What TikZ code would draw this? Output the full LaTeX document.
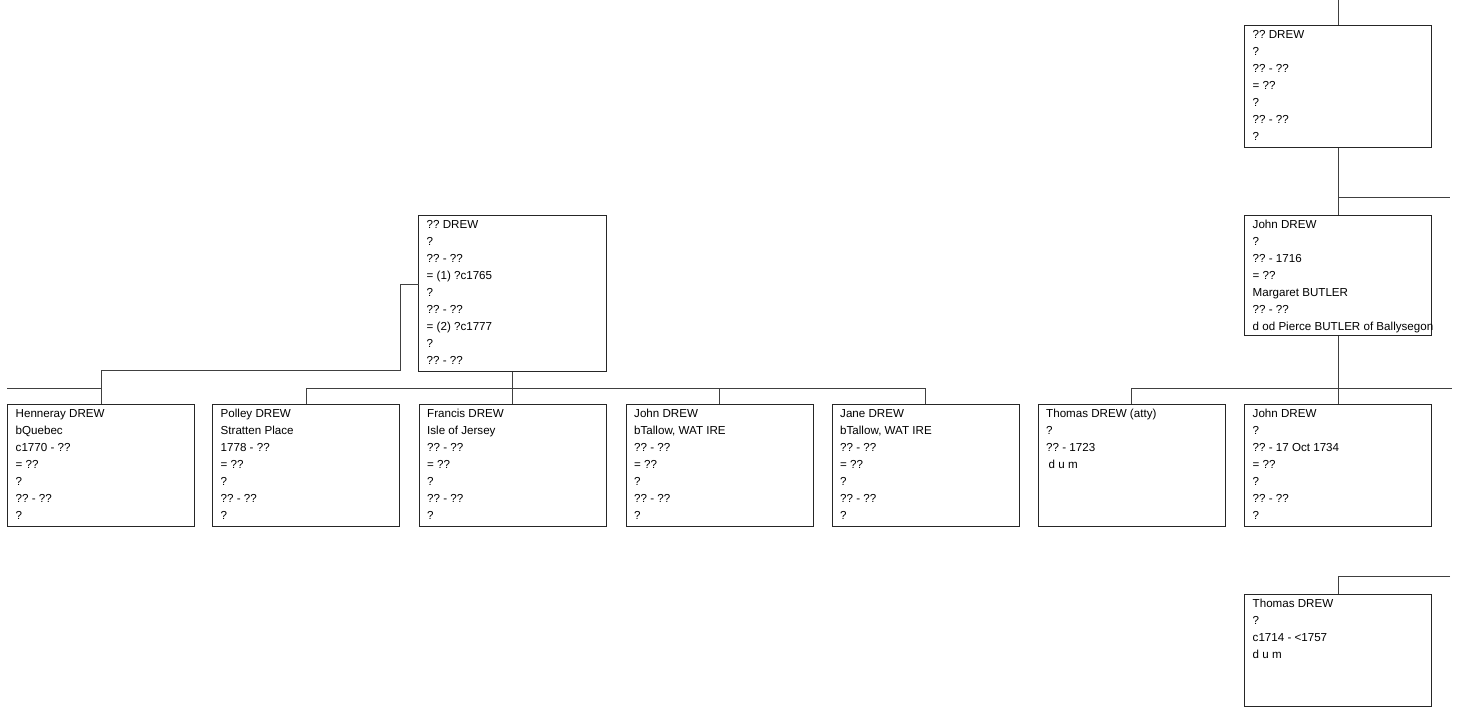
\documentclass[tikz,border=0pt]{standalone}
\usepackage{fontspec}
\setmainfont{Liberation Sans}
\frenchspacing
\begin{document}
\begin{tikzpicture}[x=1pt,y=-1pt,
  pbox/.style={draw=black!85,line width=1pt,minimum width=187pt,inner sep=0pt,anchor=north},
  ptxt/.style={anchor=north west,inner sep=0pt,align=left,xshift=8.5pt,yshift=-1pt,
     font=\frenchspacing\fontsize{11.6}{17.1}\selectfont},
  conn/.style={draw=black!75,line width=1pt}]
\useasboundingbox (0,0) rectangle (1463,715);
% boxes
\node[pbox,minimum height=122pt] (A) at (1338,25) {};
\node[ptxt] at (A.north west) {\strut ?? DREW\\?\\?? - ??\\= ??\\?\\?? - ??\\?};
\node[pbox,minimum height=120pt] (B) at (1338,215) {};
\node[ptxt] at (B.north west) {\strut John DREW\\?\\?? - 1716\\= ??\\Margaret BUTLER\\?? - ??\\d od Pierce BUTLER of Ballysegon};
\node[pbox,minimum height=156pt,minimum width=188pt] (M) at (512.5,215) {};
\node[ptxt] at (M.north west) {\strut ?? DREW\\?\\?? - ??\\= (1) ?c1765\\?\\?? - ??\\= (2) ?c1777\\?\\?? - ??};
\node[pbox,minimum height=122pt] (H) at (101,404) {};
\node[ptxt] at (H.north west) {\strut Henneray DREW\\bQuebec\\c1770 - ??\\= ??\\?\\?? - ??\\?};
\node[pbox,minimum height=122pt] (P) at (306,404) {};
\node[ptxt] at (P.north west) {\strut Polley DREW\\Stratten Place\\1778 - ??\\= ??\\?\\?? - ??\\?};
\node[pbox,minimum height=122pt] (F) at (512.5,404) {};
\node[ptxt] at (F.north west) {\strut Francis DREW\\Isle of Jersey\\?? - ??\\= ??\\?\\?? - ??\\?};
\node[pbox,minimum height=122pt] (J) at (719.5,404) {};
\node[ptxt] at (J.north west) {\strut John DREW\\bTallow, WAT IRE\\?? - ??\\= ??\\?\\?? - ??\\?};
\node[pbox,minimum height=122pt] (Ja) at (925.5,404) {};
\node[ptxt] at (Ja.north west) {\strut Jane DREW\\bTallow, WAT IRE\\?? - ??\\= ??\\?\\?? - ??\\?};
\node[pbox,minimum height=122pt] (T) at (1131.5,404) {};
\node[ptxt] at (T.north west) {\strut Thomas DREW (atty)\\?\\?? - 1723\\\hspace{2.5pt}d u m};
\node[pbox,minimum height=122pt] (J2) at (1338,404) {};
\node[ptxt] at (J2.north west) {\strut John DREW\\?\\?? - 17 Oct 1734\\= ??\\?\\?? - ??\\?};
\node[pbox,minimum height=112pt] (T2) at (1338,594) {};
\node[ptxt] at (T2.north west) {\strut Thomas DREW\\?\\c1714 - <1757\\d u m};
% coordinates
\coordinate (topend) at (1338,0);
\coordinate (sA) at (1338,197);
\coordinate (eA) at (1450,197);
\coordinate (rowR1) at (1131.5,388);
\coordinate (rowR2) at (1452,388);
\coordinate (bot1) at (1338,576);
\coordinate (bot2) at (1450,576);
\coordinate (stubL) at (7,388);
\coordinate (stubR) at (101,388);
\coordinate (mleft) at (419,284);
\coordinate (rowM1) at (306,388);
\coordinate (rowM2) at (925.5,388);
% connectors
\draw[conn] (topend) -- (A.north);
\draw[conn] (A.south) -- (B.north);
\draw[conn] (sA) -- (eA);
\draw[conn] (B.south) -- (J2.north);
\draw[conn] (rowR1) -- (rowR2);
\draw[conn] (rowR1) -- (T.north);
\draw[conn] (bot2) -- (bot1) -- (T2.north);
\draw[conn] (mleft) -- (400,284) -- (400,370) -- (101,370) -- (H.north);
\draw[conn] (stubL) -- (stubR);
\draw[conn] (M.south) -- (F.north);
\draw[conn] (rowM1) -- (rowM2);
\draw[conn] (rowM1) -- (P.north);
\draw[conn] (J.north |- rowM1) -- (J.north);
\draw[conn] (rowM2) -- (Ja.north);
\end{tikzpicture}
\end{document}
